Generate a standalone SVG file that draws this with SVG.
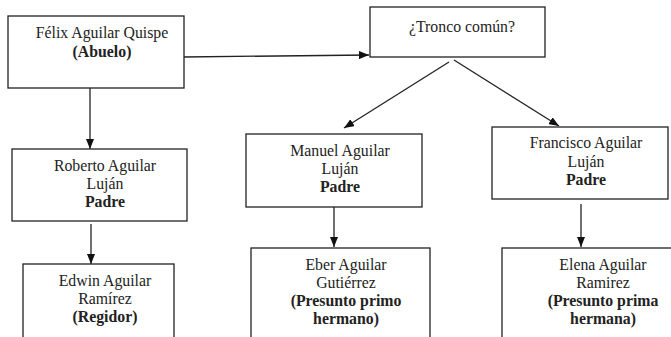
<svg xmlns="http://www.w3.org/2000/svg" width="671" height="337" viewBox="0 0 671 337">
<defs>
<marker id="arr" markerWidth="10" markerHeight="8" refX="10" refY="4" orient="auto" markerUnits="userSpaceOnUse">
<path d="M0,0 L10,4 L0,8 Z" fill="#111"/>
</marker>
<style>
.box{fill:#fff;stroke:#222;stroke-width:1.3}
.t{font-family:'Liberation Serif',serif;font-size:15.8px;fill:#222;text-anchor:middle}
.b{font-weight:bold}
.c{stroke:#222;stroke-width:1.3;fill:none;marker-end:url(#arr)}
</style>
</defs>
<rect width="671" height="337" fill="#fff"/>
<g id="connectors">
<line class="c" x1="184" y1="57" x2="369" y2="55"/>
<line class="c" x1="90" y1="88" x2="90" y2="149"/>
<line class="c" x1="91" y1="224" x2="91" y2="264"/>
<line class="c" x1="449" y1="62" x2="344" y2="128"/>
<line class="c" x1="454" y1="60" x2="559" y2="126"/>
<line class="c" x1="334" y1="207" x2="334" y2="247"/>
<line class="c" x1="581" y1="204" x2="581" y2="247"/>
</g>
<g id="felix">
<rect class="box" x="8" y="16" width="176" height="72"/>
<text class="t" x="102" y="38">Félix Aguilar Quispe</text>
<text class="t b" x="102" y="57">(Abuelo)</text>
</g>
<g id="tronco">
<rect class="box" x="370" y="7" width="175" height="50"/>
<text class="t" x="462" y="32">¿Tronco común?</text>
</g>
<g id="roberto">
<rect class="box" x="12" y="149" width="175" height="72"/>
<text class="t" x="105" y="171">Roberto Aguilar</text>
<text class="t" x="105" y="189">Luján</text>
<text class="t b" x="105" y="207">Padre</text>
</g>
<g id="edwin">
<rect class="box" x="23" y="264" width="151" height="90"/>
<text class="t" x="105" y="286">Edwin Aguilar</text>
<text class="t" x="105" y="304">Ramírez</text>
<text class="t b" x="105" y="322">(Regidor)</text>
</g>
<g id="manuel">
<rect class="box" x="246" y="134" width="176" height="73"/>
<text class="t" x="340" y="156">Manuel Aguilar</text>
<text class="t" x="340" y="174">Luján</text>
<text class="t b" x="340" y="192">Padre</text>
</g>
<g id="eber">
<rect class="box" x="251" y="248" width="179" height="100"/>
<text class="t" x="346" y="270">Eber Aguilar</text>
<text class="t" x="346" y="288">Gutiérrez</text>
<text class="t b" x="346" y="306">(Presunto primo</text>
<text class="t b" x="346" y="324">hermano)</text>
</g>
<g id="francisco">
<rect class="box" x="492" y="127" width="176" height="72"/>
<text class="t" x="586" y="148">Francisco Aguilar</text>
<text class="t" x="586" y="167">Luján</text>
<text class="t b" x="586" y="185">Padre</text>
</g>
<g id="elena">
<rect class="box" x="502" y="248" width="180" height="100"/>
<text class="t" x="603" y="270">Elena Aguilar</text>
<text class="t" x="603" y="288">Ramirez</text>
<text class="t b" x="603" y="306">(Presunto prima</text>
<text class="t b" x="603" y="324">hermana)</text>
</g>
</svg>
